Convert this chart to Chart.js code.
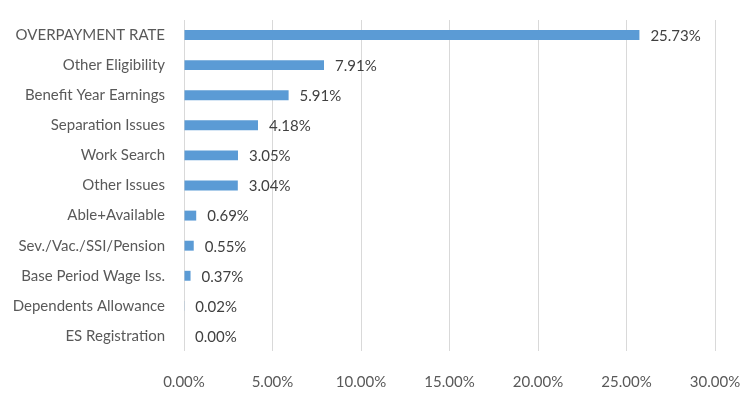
<!DOCTYPE html>
<html lang="en">
<head>
    <meta charset="UTF-8">
    <title>Overpayment Rate</title>
    <style>
        body {
            margin: 0;
            background-color: #fff;
        }
        #chart-container {
            width: 750px;
            height: 397px;
        }
    </style>
    <script src="https://cdn.jsdelivr.net/npm/chart.js"></script>
</head>
<body>
    <div id="chart-container">
        <canvas id="rate-chart" width="750" height="397"></canvas>
    </div>
    <script>
        const categories = [
            'OVERPAYMENT RATE',
            'Other Eligibility',
            'Benefit Year Earnings',
            'Separation Issues',
            'Work Search',
            'Other Issues',
            'Able+Available',
            'Sev./Vac./SSI/Pension',
            'Base Period Wage Iss.',
            'Dependents Allowance',
            'ES Registration'
        ];
        const rates = [25.73, 7.91, 5.91, 4.18, 3.05, 3.04, 0.69, 0.55, 0.37, 0.02, 0.00];
        const xTicks = [0, 5, 10, 15, 20, 25, 30];

        const fontFamily = 'Lato, "Open Sans", sans-serif';

        // draws the value text just past the end of each bar
        const valueLabels = {
            id: 'valueLabels',
            afterDatasetsDraw(chart) {
                const ctx = chart.ctx;
                const meta = chart.getDatasetMeta(0);
                ctx.save();
                ctx.font = '15px ' + fontFamily;
                ctx.fillStyle = '#404040';
                ctx.textAlign = 'left';
                ctx.textBaseline = 'middle';
                meta.data.forEach((bar, i) => {
                    ctx.fillText(rates[i].toFixed(2) + '%', bar.x + 11, bar.y + 1);
                });
                ctx.restore();
            }
        };

        new Chart(document.getElementById('rate-chart'), {
            type: 'bar',
            data: {
                labels: categories,
                datasets: [{
                    data: rates,
                    backgroundColor: '#5B9BD5',
                    barPercentage: 0.66,
                    categoryPercentage: 0.5
                }]
            },
            options: {
                indexAxis: 'y',
                responsive: false,
                animation: false,
                layout: {
                    padding: { top: 13, right: 35, left: 0, bottom: 0 }
                },
                plugins: {
                    legend: { display: false },
                    tooltip: { enabled: false }
                },
                scales: {
                    x: {
                        min: 0,
                        max: 30,
                        afterBuildTicks(scale) {
                            scale.ticks = xTicks.map(v => ({ value: v }));
                        },
                        afterFit(scale) {
                            scale.height = 46;
                            scale.paddingLeft = 0;
                            scale.paddingRight = 0;
                        },
                        grid: {
                            color: '#D9D9D9',
                            drawTicks: false
                        },
                        border: { display: false },
                        ticks: {
                            padding: 22,
                            color: '#595959',
                            font: { family: fontFamily, size: 15 },
                            callback: v => v.toFixed(2) + '%'
                        }
                    },
                    y: {
                        afterFit(scale) {
                            scale.width = 184;
                        },
                        grid: { display: false },
                        border: { display: false },
                        ticks: {
                            padding: 11,
                            color: '#595959',
                            font: { family: fontFamily, size: 15 }
                        }
                    }
                }
            },
            plugins: [valueLabels]
        });
    </script>
</body>
</html>
